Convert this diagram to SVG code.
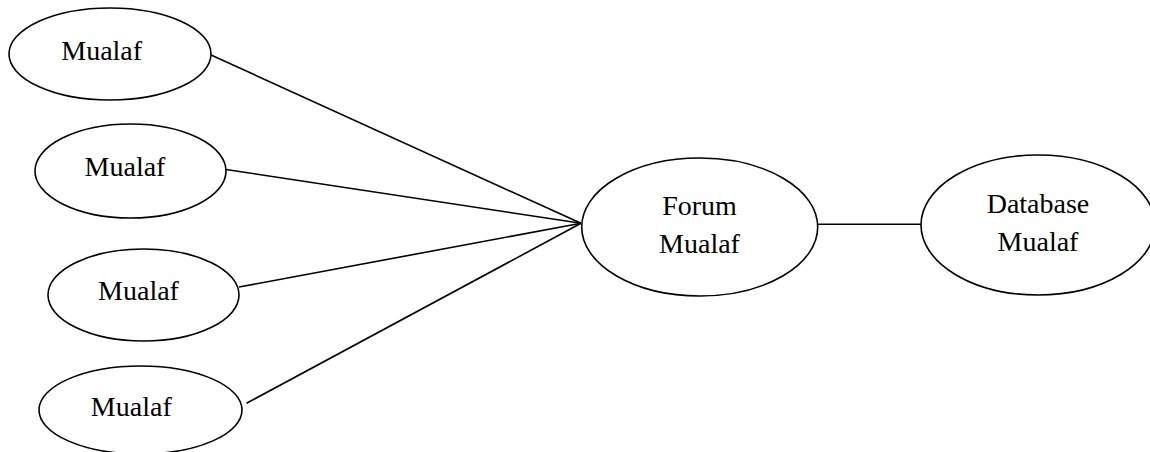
<svg xmlns="http://www.w3.org/2000/svg" width="1150" height="452" viewBox="0 0 1150 452">
<style>
.n{fill:#fff;stroke:#000;stroke-width:1.6}
.c{stroke:#000;stroke-width:1.6;fill:none}
text{font-family:"Liberation Serif","Times New Roman",serif;font-size:28px;fill:#000;text-anchor:middle}
</style>
<rect width="1150" height="452" fill="#fff"/>
<g id="connectors">
<line class="c" x1="211" y1="55" x2="581" y2="223.3"/>
<line class="c" x1="226" y1="169.5" x2="581" y2="223.3"/>
<line class="c" x1="239" y1="287" x2="581" y2="223.3"/>
<line class="c" x1="246.5" y1="403.3" x2="581" y2="223.3"/>
<line class="c" x1="817.7" y1="224.3" x2="921" y2="224.3"/>
</g>
<g id="mualaf1">
<ellipse class="n" cx="110" cy="54" rx="101" ry="46"/>
<text x="101.7" y="60">Mualaf</text>
</g>
<g id="mualaf2">
<ellipse class="n" cx="130.5" cy="171" rx="95.5" ry="47"/>
<text x="125" y="175.7">Mualaf</text>
</g>
<g id="mualaf3">
<ellipse class="n" cx="143.5" cy="295" rx="95.5" ry="46"/>
<text x="138.5" y="300">Mualaf</text>
</g>
<g id="mualaf4">
<ellipse class="n" cx="140.5" cy="410" rx="101.5" ry="44"/>
<text x="131.3" y="416">Mualaf</text>
</g>
<g id="forum">
<ellipse class="n" cx="699.7" cy="227" rx="118" ry="69"/>
<text x="699.5" y="215">Forum</text>
<text x="699.5" y="252.7">Mualaf</text>
</g>
<g id="database">
<ellipse class="n" cx="1038" cy="225" rx="117" ry="70"/>
<text x="1038" y="213">Database</text>
<text x="1038" y="250.7">Mualaf</text>
</g>
</svg>
